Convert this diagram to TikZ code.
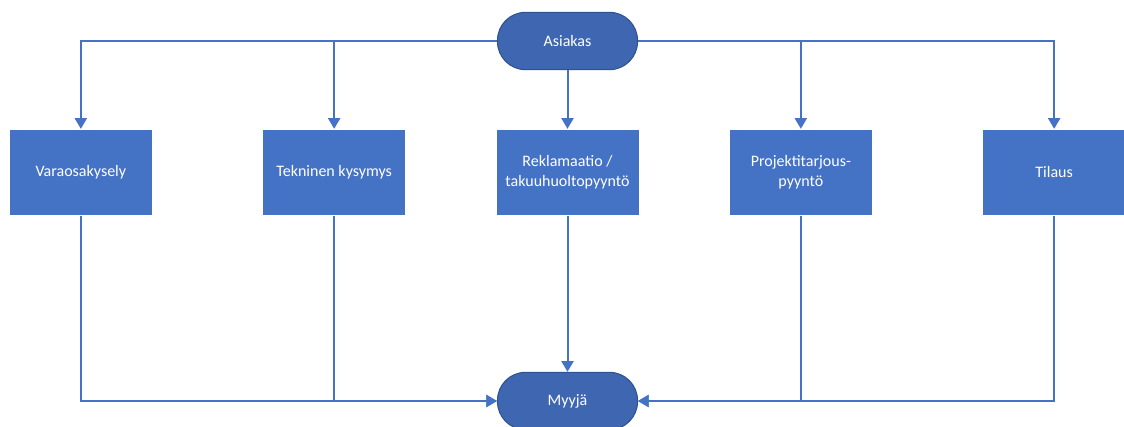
\documentclass[tikz,border=0pt]{standalone}
\usepackage{fontspec}
\setmainfont{Carlito}
\usetikzlibrary{positioning,arrows.meta}
\definecolor{boxblue}{HTML}{4472C4}
\definecolor{endblue}{HTML}{3F66B0}
\definecolor{edgeblue}{HTML}{2F528F}

\begin{document}
\begin{tikzpicture}[x=0.75pt,y=-0.75pt,->,>={Triangle[width=9pt,length=8pt]},
  line width=1.5pt,
  main/.style = {rectangle, fill=boxblue, text=white, minimum width=106.5pt, minimum height=64pt, align=center, font=\fontsize{12}{15}\selectfont},
  term/.style = {rectangle, rounded corners=21pt, fill=endblue, draw=edgeblue, line width=0.8pt, text=white, minimum width=105pt, minimum height=43pt, font=\fontsize{12}{15}\selectfont}]
\useasboundingbox (0,0) rectangle (1124,427);
\node[term] (asiakas) at (567.5,41) {Asiakas};
\node[main] (rek) at (567.5,172.5) {Reklamaatio /\\takuuhuoltopyyntö};
\node[main] (tek) [left=67pt of rek] {Tekninen kysymys};
\node[main] (vara) [left=82pt of tek] {Varaosakysely};
\node[main] (proj) [right=67pt of rek] {Projektitarjous-\\pyyntö};
\node[main] (tilaus) [right=82pt of proj] {Tilaus};
\node[term] (myyja) at (567.5,401) {Myyjä};

 % asiakas -> tapaukset
 \draw[boxblue] (asiakas.west) -| (vara);
 \draw[boxblue] (asiakas.west) -| (tek);
 \draw[boxblue] (asiakas) -- (rek);
 \draw[boxblue] (asiakas.east) -| (proj);
 \draw[boxblue] (asiakas.east) -| (tilaus);
 % tapaukset -> myyja
 \draw[boxblue] (vara) |- (myyja.west);
 \draw[boxblue] (tek) |- (myyja.west);
 \draw[boxblue] (rek) -- (myyja);
 \draw[boxblue] (proj) |- (myyja.east);
 \draw[boxblue] (tilaus) |- (myyja.east);
\end{tikzpicture}
\end{document}
